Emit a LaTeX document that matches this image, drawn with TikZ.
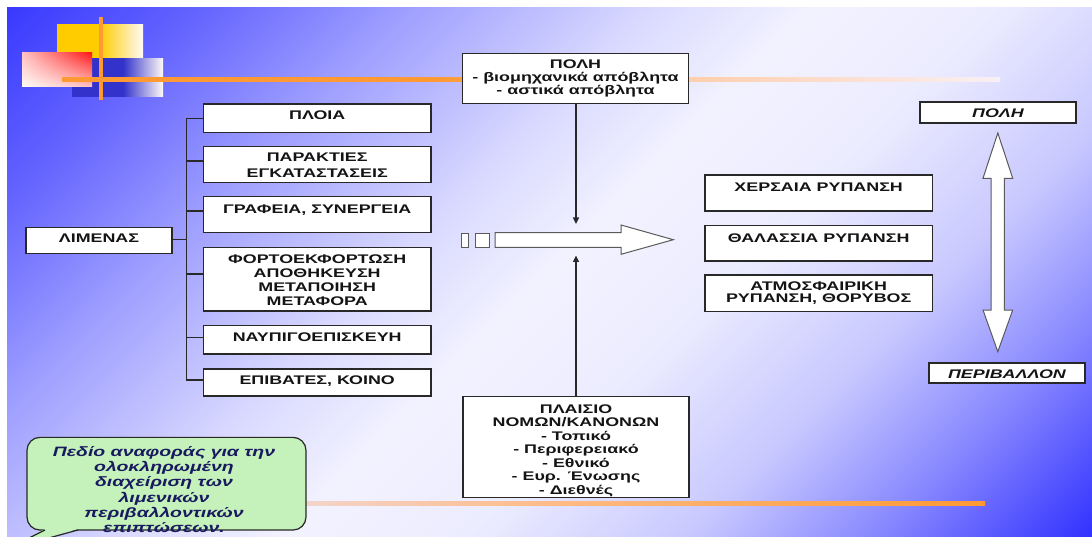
\documentclass[tikz,border=0pt]{standalone}
\usepackage{fontspec}
\setmainfont{Liberation Sans}[FakeStretch=1.43]
\usetikzlibrary{arrows.meta,shadings}

\definecolor{bg0}{RGB}{58,58,255}
\definecolor{bg1}{RGB}{100,100,255}
\definecolor{bg2}{RGB}{158,158,255}
\definecolor{bg3}{RGB}{218,218,255}
\definecolor{bg4}{RGB}{242,242,255}
\definecolor{bg5}{RGB}{236,236,255}
\definecolor{bg6}{RGB}{200,200,255}
\definecolor{bg7}{RGB}{135,135,255}
\definecolor{bg8}{RGB}{50,50,255}
\definecolor{orA}{RGB}{255,153,51}
\definecolor{orM}{RGB}{255,205,170}
\definecolor{orF}{RGB}{248,240,246}
\definecolor{orB}{RGB}{255,185,130}
\definecolor{orG}{RGB}{236,228,246}
\definecolor{decY}{RGB}{255,204,0}
\definecolor{decB}{RGB}{51,51,204}
\definecolor{decW}{RGB}{255,250,246}
\definecolor{decR}{RGB}{255,25,25}
\definecolor{decP}{RGB}{255,195,195}
\definecolor{boxc}{RGB}{40,40,40}
\definecolor{grayc}{RGB}{90,90,90}
\definecolor{txtc}{RGB}{20,20,20}
\definecolor{callfill}{RGB}{196,242,186}
\definecolor{calltext}{RGB}{25,25,95}

\pgfdeclarehorizontalshading{bgsh}{100bp}{color(0bp)=(bg0); color(14.6bp)=(bg0); color(23bp)=(bg1); color(32bp)=(bg2); color(43bp)=(bg3); color(50bp)=(bg4); color(58bp)=(bg5); color(67.7bp)=(bg6); color(76bp)=(bg7); color(85.4bp)=(bg8); color(100bp)=(bg8)}
\pgfdeclarehorizontalshading{toplinesh}{100bp}{color(0bp)=(orA); color(45bp)=(orA); color(58bp)=(orM); color(75bp)=(orF); color(100bp)=(orF)}
\pgfdeclarehorizontalshading{botlinesh}{100bp}{color(0bp)=(orG); color(25bp)=(orG); color(50bp)=(orB); color(75bp)=(orA); color(100bp)=(orA)}
\pgfdeclarehorizontalshading{yelsh}{100bp}{color(0bp)=(decY); color(50bp)=(decY); color(75bp)=(decW); color(100bp)=(decW)}
\pgfdeclarehorizontalshading{bluesh}{100bp}{color(0bp)=(decB); color(53bp)=(decB); color(75bp)=(decW); color(100bp)=(decW)}

\begin{document}
\begin{tikzpicture}[x=1pt,y=-1pt,
  box/.style={draw=boxc, fill=white, line width=1.2pt, rectangle, inner sep=0pt},
  txt/.style={inner sep=0pt, align=center, text=txtc, anchor=north, font=\fontsize{12.5}{#1}\selectfont\bfseries},
  txt/.default=13.5,
  itx/.style={inner sep=0pt, align=center, text=txtc, anchor=north, font=\fontsize{12.5}{13.5}\selectfont\bfseries\itshape},
  conn/.style={draw=boxc, line width=1.1pt},
  shapeln/.style={draw=grayc, line width=1pt, fill=white, line join=miter},
  arr/.style={conn, -{Triangle[length=6.5pt,width=6pt]}},
  callout/.style={draw=boxc, fill=callfill, line width=1.2pt, rounded corners=13pt, rectangle, inner sep=0pt},
  calltxt/.style={inner sep=0pt, align=center, text=calltext, anchor=north, font=\fontsize{13.6}{15.3}\selectfont\bfseries\itshape}
]
\useasboundingbox (0,0) rectangle (1092,537);
\clip (0,0) rectangle (1092,537);
\fill[white] (0,0) rectangle (1092,537);
\shade[shading=bgsh, shading angle=-45] (7,8) rectangle (1092,537);

% decoration top left
\shade[shading=yelsh] (57,25) rectangle (143,60);
\shade[shading=bluesh] (72,59) rectangle (163,97);
\shade[upper right=decR, upper left=decP, lower left=decW, lower right=decP] (22,53) rectangle (92,87);
\fill[orA] (99,17) rectangle (103,100);

% orange lines
\shade[shading=toplinesh] (62,78) rectangle (1000,82);
\shade[shading=botlinesh] (150,501) rectangle (985,505);

% left column
\node[box, minimum width=146pt, minimum height=25.6pt] (lim) at (99,240.5) {};
\node[txt] (tlim) at (99,233.3) {ΛΙΜΕΝΑΣ};

\node[box, minimum width=227.7pt, minimum height=28.3pt] (b1) at (317.2,118.2) {};
\node[box, minimum width=227.7pt, minimum height=35.7pt] (b2) at (317.2,164.5) {};
\node[box, minimum width=227.7pt, minimum height=35.7pt] (b3) at (317.2,214.5) {};
\node[box, minimum width=227.7pt, minimum height=63.7pt] (b4) at (317.2,279.2) {};
\node[box, minimum width=227.7pt, minimum height=28.3pt] (b5) at (317.2,339.8) {};
\node[box, minimum width=227.7pt, minimum height=27pt] (b6) at (317.2,382.5) {};
\node[txt] (t1) at (317.2,110.2) {ΠΛΟΙΑ};
\node[txt=15.6] (t2) at (317.2,152.7) {ΠΑΡΑΚΤΙΕΣ\\ΕΓΚΑΤΑΣΤΑΣΕΙΣ};
\node[txt] (t3) at (317.2,204.2) {ΓΡΑΦΕΙΑ, ΣΥΝΕΡΓΕΙΑ};
\node[txt=14.2] (t4) at (317.2,254.3) {ΦΟΡΤΟΕΚΦΟΡΤΩΣΗ\\ΑΠΟΘΗΚΕΥΣΗ\\ΜΕΤΑΠΟΙΗΣΗ\\ΜΕΤΑΦΟΡΑ};
\node[txt] (t5) at (317.2,332.7) {ΝΑΥΠΙΓΟΕΠΙΣΚΕΥΗ};
\node[txt] (t6) at (317.2,375.5) {ΕΠΙΒΑΤΕΣ, ΚΟΙΝΟ};

% tree connectors
\coordinate (tr) at (187.3,239.3);
\draw[conn] (lim.east |- tr) -- (tr);
\draw[conn] (b1.west) -- ++(-16,0) |- ([yshift=2.5pt]b6.west);
\foreach \n/\s in {b2/3.5,b3/3.5,b4/5.2,b5/2}
  \draw[conn] ([yshift=\s pt]\n.west) -- ++(-16,0);

% centre column
\node[box, minimum width=225.6pt, minimum height=50pt] (polh) at (575.5,78.3) {};
\node[txt=12.8] (tpolh) at (575.5,60) {ΠΟΛΗ\\- βιομηχανικά απόβλητα\\- αστικά απόβλητα};
\node[box, minimum width=226pt, minimum height=100.6pt] (plai) at (576,447) {};
\node[txt=13.5] (tplai) at (576,404.3) {ΠΛΑΙΣΙΟ\\ΝΟΜΩΝ/ΚΑΝΟΝΩΝ\\- Τοπικό\\- Περιφερειακό\\- Εθνικό\\- Ευρ. Ένωσης\\- Διεθνές};

% big arrow and small boxes
\draw[shapeln, line width=0.9pt] (461.7,233) rectangle (468.3,247.3);
\draw[shapeln, line width=0.9pt] (475,233) rectangle (489.3,247.3);
\draw[shapeln] (495,232.7) -- (621,232.7) -- (621,225) -- (673.3,239.7) -- (621,254.3) -- (621,247.3) -- (495,247.3) -- cycle;

\coordinate (dn) at (576,224);
\coordinate (up) at (576,255.5);
\draw[arr] (polh.south -| dn) -- (dn);
\draw[arr] (plai.north -| up) -- (up);

% pollution boxes
\node[box, minimum width=227.3pt, minimum height=36pt] (r1) at (818.7,193) {};
\node[box, minimum width=227.3pt, minimum height=35.3pt] (r2) at (818.7,243.3) {};
\node[box, minimum width=227.3pt, minimum height=36.7pt] (r3) at (818.7,293.3) {};
\node[txt] (tr1) at (818.7,182.7) {ΧΕΡΣΑΙΑ ΡΥΠΑΝΣΗ};
\node[txt] (tr2) at (818.7,233.3) {ΘΑΛΑΣΣΙΑ ΡΥΠΑΝΣΗ};
\node[txt=11.8] (tr3) at (818.7,281.7) {ΑΤΜΟΣΦΑΙΡΙΚΗ\\ΡΥΠΑΝΣΗ, ΘΟΡΥΒΟΣ};

% right column
\node[box, minimum width=156pt, minimum height=21pt] (city) at (998,112.5) {};
\node[itx] (tcity) at (998,108.3) {ΠΟΛΗ};
\node[box, minimum width=156pt, minimum height=20pt] (env) at (1007,373) {};
\node[itx] (tenv) at (1007,369.7) {ΠΕΡΙΒΑΛΛΟΝ};
\draw[shapeln] (997.8,133) -- (1012.7,178.3) -- (1004.4,178.3) -- (1004.4,310) -- (1012.7,310) -- (997.8,351.7) -- (983,310) -- (991.2,310) -- (991.2,178.3) -- (983,178.3) -- cycle;

% callout
\node[callout, minimum width=279pt, minimum height=92.7pt] (co) at (166.5,483.7) {};
\fill[callfill] (45,529) -- (78,529) -- (5,550) -- cycle;
\draw[conn, line width=1.2pt] (45,530) -- (5,550);
\draw[conn, line width=1.2pt] (78,530) -- (5,550);
\node[calltxt] (cot) at (164,446) {Πεδίο αναφοράς για την\\ολοκληρωμένη\\διαχείριση των\\λιμενικών\\περιβαλλοντικών\\επιπτώσεων.};
\end{tikzpicture}
\end{document}
